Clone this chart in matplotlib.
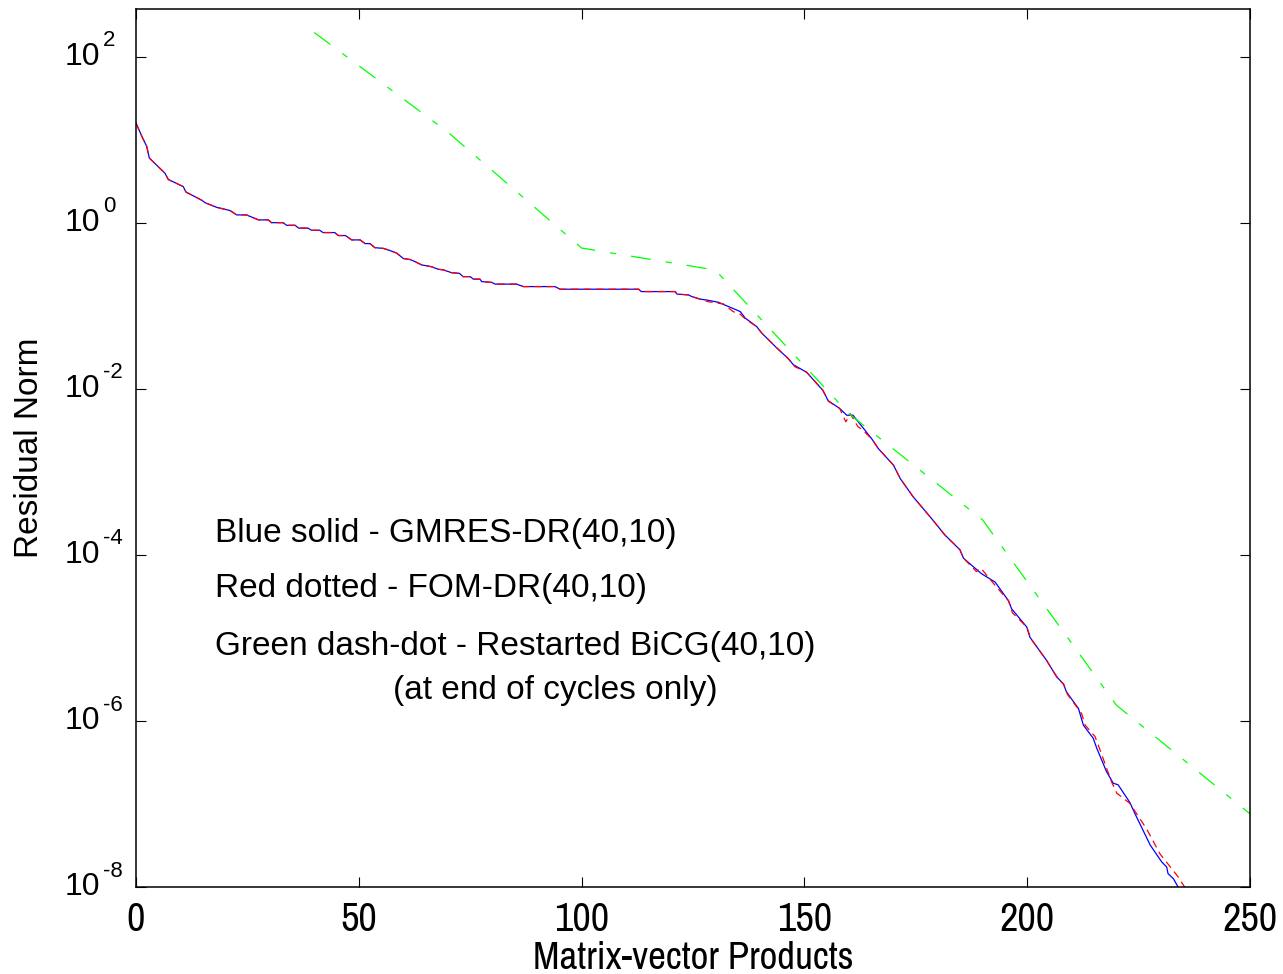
import numpy as np
import matplotlib
matplotlib.use('Agg')
import matplotlib.pyplot as plt
from matplotlib.ticker import NullLocator, FixedLocator

plt.rcParams['font.family'] = ['Liberation Sans', 'DejaVu Sans']

NARROW = ['Archivo Narrow', 'Liberation Sans']

# ── GMRES-DR(40,10) residual history
mv_gmres = [0, 1.3, 2.4, 3.0, 6.5, 7.25, 10.6, 11.2, 14.7, 15.5, 18.1, 21.1, 22.6, 24.8,
            27.5, 29.7, 30.4, 33, 33.8, 35.7, 36.5, 38.6, 39.4, 41.2, 42, 44.6, 45.4, 47,
            48.4, 50.3, 51.4, 52.5, 53.6, 55.5, 56.6, 58.5, 60, 61.5, 62.6, 64.1, 66.3,
            67.8, 69, 70.8, 72.6, 73.4, 75, 75.7, 77.2, 77.6, 79.8, 80.6, 85.4, 86.9, 94,
            95.2, 112.8, 113.4, 121, 121.4, 124, 124.7, 126.6, 128.1, 130.7, 132.9, 135.6,
            136.7, 139.3, 140.4, 143.8, 146.4, 147.5, 150.5, 154.2, 155.3, 157.9, 159.5,
            160.9, 165.1, 166.6, 170, 171.5, 174.4, 178.5, 181.5, 184.9, 185.7, 188.3,
            189.8, 192.8, 195.8, 196.5, 199.9, 200.6, 204.3, 206.6, 208.1, 208.8, 211.5,
            212.6, 214.8, 215.6, 217.8, 219.3, 220.4, 223, 224.2, 227.6, 230.2, 231.3,
            231.6, 232.8, 234.3]
res_gmres = [1.58e1, 1.10e1, 8.3e0, 6.0e0, 3.94e0, 3.31e0, 2.72e0, 2.34e0, 1.87e0,
             1.74e0, 1.53e0, 1.40e0, 1.24e0, 1.24e0, 1.08e0, 1.08e0, 1.0e0, 1.0e0,
             9.3e-1, 9.3e-1, 8.6e-1, 8.6e-1, 8.1e-1, 8.1e-1, 7.6e-1, 7.6e-1, 7.0e-1,
             7.0e-1, 6.2e-1, 6.2e-1, 5.6e-1, 5.6e-1, 5.0e-1, 4.9e-1, 4.7e-1, 4.3e-1,
             3.7e-1, 3.6e-1, 3.4e-1, 3.1e-1, 2.95e-1, 2.75e-1, 2.7e-1, 2.5e-1, 2.45e-1,
             2.24e-1, 2.24e-1, 2.09e-1, 2.09e-1, 1.95e-1, 1.91e-1, 1.82e-1, 1.82e-1,
             1.70e-1, 1.70e-1, 1.58e-1, 1.58e-1, 1.48e-1, 1.48e-1, 1.38e-1, 1.35e-1,
             1.29e-1, 1.20e-1, 1.17e-1, 1.10e-1, 9.8e-2, 8.5e-2, 7.1e-2, 5.6e-2, 4.7e-2,
             3.1e-2, 2.3e-2, 1.95e-2, 1.58e-2, 9.5e-3, 7.2e-3, 5.8e-3, 4.8e-3, 4.8e-3,
             2.5e-3, 1.9e-3, 1.2e-3, 8.3e-4, 5.0e-4, 2.75e-4, 1.74e-4, 1.15e-4, 9.1e-5,
             6.9e-5, 5.9e-5, 4.7e-5, 2.8e-5, 2.24e-5, 1.35e-5, 1.02e-5, 5.4e-6, 3.4e-6,
             2.8e-6, 2.24e-6, 1.41e-6, 8.9e-7, 6.2e-7, 4.7e-7, 2.45e-7, 1.78e-7, 1.70e-7,
             1.05e-7, 7.6e-8, 3.2e-8, 2.0e-8, 1.74e-8, 1.45e-8, 1.26e-8, 9.1e-9]

# ── FOM-DR(40,10) residual history
mv_fom = [0, 1.3, 2.4, 3.0, 6.5, 7.25, 10.6, 11.2, 14.7, 15.5, 18.1, 21.1, 22.6, 24.8,
          27.5, 29.7, 30.4, 33, 33.8, 35.7, 36.5, 38.6, 39.4, 41.2, 42, 44.6, 45.4, 47,
          48.4, 50.3, 51.4, 52.5, 53.6, 55.5, 56.6, 58.5, 60, 61.5, 62.6, 64.1, 66.3,
          67.8, 69, 70.8, 72.6, 73.4, 75, 75.7, 77.2, 77.6, 79.8, 80.6, 85.4, 86.9, 94,
          95.2, 112.8, 113.4, 121, 121.4, 124, 124.7, 126.6, 128.4, 131.8, 134, 135.6,
          136.9, 139.3, 140.4, 143.8, 146.4, 147.8, 150.5, 154.0, 155.5, 157.9, 159.3,
          160.3, 162, 163, 165.1, 166.6, 170, 171.5, 174.4, 178.5, 181.5, 184.9, 185.7,
          188.6, 189.6, 193.1, 195.8, 196.7, 199.9, 200.8, 204.5, 206.8, 208.3, 209.0,
          212.2, 213.0, 215.2, 216.2, 218.9, 220.1, 223, 226.8, 229.8, 233.9, 235.8]
res_fom = [1.58e1, 1.10e1, 8.3e0, 6.0e0, 3.94e0, 3.31e0, 2.72e0, 2.34e0, 1.87e0,
           1.74e0, 1.53e0, 1.40e0, 1.24e0, 1.24e0, 1.08e0, 1.08e0, 1.0e0, 1.0e0,
           9.3e-1, 9.3e-1, 8.6e-1, 8.6e-1, 8.1e-1, 8.1e-1, 7.6e-1, 7.6e-1, 7.0e-1,
           7.0e-1, 6.2e-1, 6.2e-1, 5.6e-1, 5.6e-1, 5.0e-1, 4.9e-1, 4.7e-1, 4.3e-1,
           3.7e-1, 3.6e-1, 3.4e-1, 3.1e-1, 2.95e-1, 2.75e-1, 2.7e-1, 2.5e-1, 2.45e-1,
           2.24e-1, 2.24e-1, 2.09e-1, 2.09e-1, 1.95e-1, 1.91e-1, 1.82e-1, 1.82e-1,
           1.70e-1, 1.70e-1, 1.58e-1, 1.58e-1, 1.48e-1, 1.48e-1, 1.38e-1, 1.35e-1,
           1.29e-1, 1.20e-1, 1.12e-1, 1.05e-1, 8.5e-2, 7.9e-2, 6.8e-2, 5.6e-2, 4.7e-2,
           3.1e-2, 2.3e-2, 1.85e-2, 1.58e-2, 9.8e-3, 7.0e-3, 5.8e-3, 4.0e-3, 5.0e-3,
           3.5e-3, 3.2e-3, 2.5e-3, 1.9e-3, 1.2e-3, 8.3e-4, 5.0e-4, 2.75e-4, 1.74e-4,
           1.15e-4, 9.1e-5, 6.3e-5, 6.9e-5, 4.1e-5, 2.8e-5, 2.0e-5, 1.35e-5, 9.8e-6,
           5.2e-6, 3.3e-6, 2.7e-6, 2.1e-6, 1.23e-6, 8.9e-7, 6.5e-7, 4.7e-7, 1.86e-7,
           1.35e-7, 1.02e-7, 5.0e-8, 2.5e-8, 1.32e-8, 9.1e-9]

# ── Restarted BiCG(40,10), end of each cycle
mv_bicg = [40, 70, 100, 130, 160, 190, 220, 250]
res_bicg = [1.95e2, 1.23e1, 4.95e-1, 2.69e-1, 5.0e-3, 2.63e-4, 1.55e-6, 7.6e-8]

xticks = [0, 50, 100, 150, 200, 250]
ytick_exp = [-8, -6, -4, -2, 0, 2]

legend_lines = ['Blue solid - GMRES-DR(40,10)',
                'Red dotted - FOM-DR(40,10)',
                'Green dash-dot - Restarted BiCG(40,10)']
legend_note = '(at end of cycles only)'

fig = plt.figure(figsize=(12.83, 9.74), dpi=100)
ax = fig.add_axes([0.106, 0.0893, 0.8683, 0.9012])

ax.plot(mv_gmres, res_gmres, color='#0000ff', lw=0.9)
ax.plot(mv_fom, res_fom, color='#ff0000', lw=0.9, linestyle=(0, (6, 4)))
ax.plot(mv_bicg, res_bicg, color='#00ff00', lw=0.9, linestyle=(0, (16, 12, 5, 12)))

ax.set_yscale('log')
ax.set_xlim(0, 250)
ax.set_ylim(1e-8, 10 ** 2.57)
ax.xaxis.set_major_locator(FixedLocator(xticks))
ax.yaxis.set_major_locator(FixedLocator([10.0 ** e for e in ytick_exp]))
ax.yaxis.set_minor_locator(NullLocator())
ax.xaxis.set_minor_locator(NullLocator())
ax.set_xticklabels([str(t) for t in xticks], family=NARROW, fontsize=29)
# y labels: base "10" as tick label, exponent drawn next to it
ax.set_yticklabels(['10'] * len(ytick_exp), fontsize=23, va='center')

ax.tick_params(direction='in', length=7.5, width=0.8, top=True, right=True)
ax.tick_params(axis='y', pad=26)
ax.tick_params(axis='x', pad=10)
for sp in ax.spines.values():
    sp.set_linewidth(1.1)

for e in ytick_exp:
    ax.annotate(str(e), xy=(0, 10.0 ** e), xycoords=('axes fraction', 'data'),
                xytext=(-23.5, 7.5), textcoords='offset points', fontsize=16,
                ha='left', va='baseline')

ax.set_xlabel('Matrix-vector Products', fontsize=28, family=NARROW)
ax.xaxis.set_label_coords(0.5, -0.062)
ax.xaxis.label.set_va('top')
ax.set_ylabel('Residual Norm', fontsize=24)
ax.yaxis.set_label_coords(-0.082, 0.5)

# annotation block inside the axes
for txt, yb in zip(legend_lines, [0.3934, 0.3307, 0.2643]):
    ax.text(0.0709, yb, txt, transform=ax.transAxes, fontsize=24, va='baseline')
ax.text(0.2307, 0.2142, legend_note, transform=ax.transAxes, fontsize=24, va='baseline')

fig.savefig('out.png', dpi=100)
